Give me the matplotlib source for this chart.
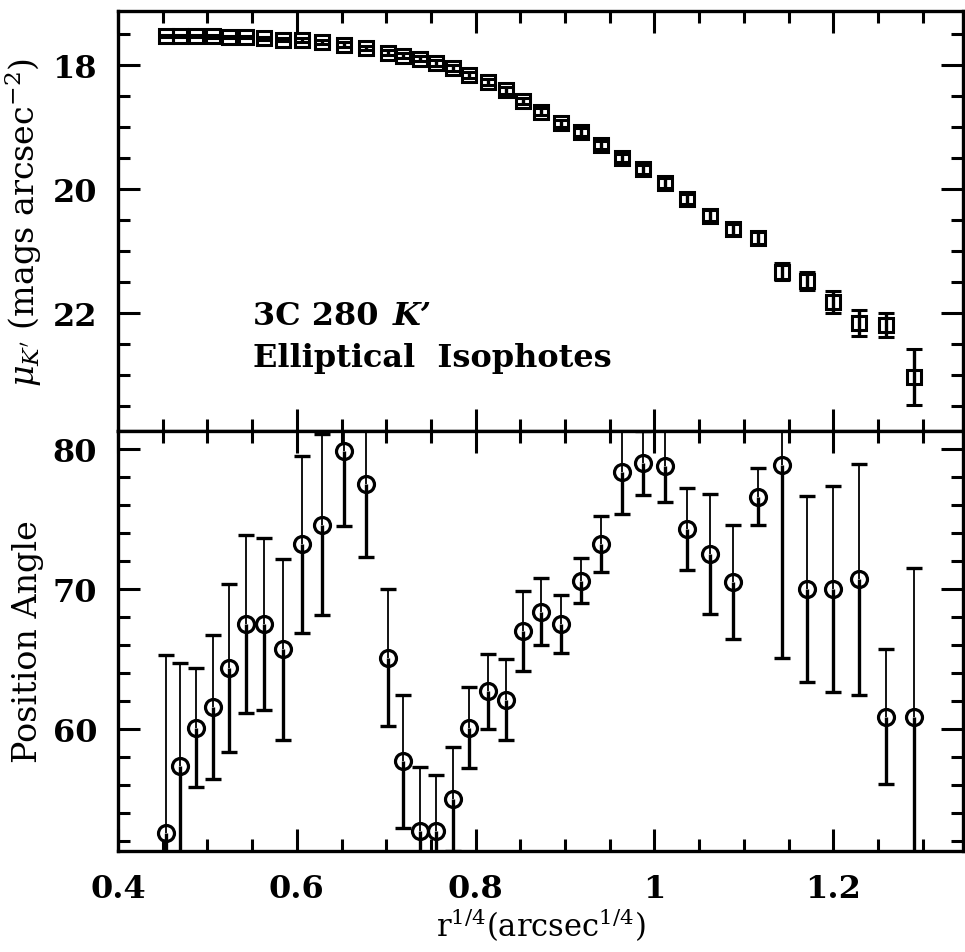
import matplotlib
matplotlib.use("Agg")
import numpy as np
import matplotlib.pyplot as plt
from matplotlib.ticker import MultipleLocator, FormatStrFormatter

# r^(1/4) of each isophote (same radii in both panels)
r14 = [0.4536, 0.4698, 0.4877, 0.5061, 0.5240, 0.5430, 0.5631, 0.5844,
       0.6061, 0.6285, 0.6525, 0.6777, 0.7022, 0.7190, 0.7380, 0.7553,
       0.7743, 0.7927, 0.8140, 0.8335, 0.8531, 0.8732, 0.8955, 0.9179,
       0.9402, 0.9637, 0.9872, 1.0117, 1.0363, 1.0620, 1.0877, 1.1156,
       1.1430, 1.1704, 1.1994, 1.2291, 1.2592, 1.2905]

# surface brightness in K' (mag / arcsec^2)
mu_k = [17.53, 17.53, 17.53, 17.54, 17.55, 17.55, 17.57, 17.59, 17.60,
        17.63, 17.67, 17.73, 17.80, 17.85, 17.90, 17.97, 18.05, 18.16,
        18.28, 18.41, 18.58, 18.75, 18.94, 19.08, 19.29, 19.50, 19.68,
        19.90, 20.16, 20.43, 20.65, 20.79, 21.33, 21.48, 21.82, 22.16,
        22.19, 23.03]
mu_err = [0.02, 0.02, 0.02, 0.02, 0.02, 0.02, 0.025, 0.025, 0.03,
          0.03, 0.035, 0.035, 0.04, 0.04, 0.04, 0.045, 0.045, 0.05,
          0.05, 0.055, 0.055, 0.06, 0.06, 0.065, 0.065, 0.07, 0.07,
          0.075, 0.08, 0.085, 0.09, 0.09, 0.13, 0.14, 0.17, 0.21,
          0.20, 0.45]

# position angle of the fitted ellipses (degrees)
pos_angle = [52.6, 57.4, 60.1, 61.6, 64.4, 67.5, 67.5, 65.7, 73.2, 74.6,
             79.9, 77.5, 65.1, 57.7, 52.7, 52.7, 55.0, 60.1, 62.7, 62.1,
             67.0, 68.4, 67.5, 70.6, 73.2, 78.4, 79.0, 78.8, 74.3, 72.5,
             70.5, 76.6, 78.9, 70.0, 70.0, 70.7, 60.9, 60.9]
pa_err = [12.7, 7.3, 4.25, 5.15, 6.0, 6.35, 6.15, 6.45, 6.3, 6.45,
          5.4, 5.2, 4.9, 4.75, 4.6, 4.0, 3.7, 2.9, 2.7, 2.9,
          2.85, 2.4, 2.05, 1.6, 2.0, 3.0, 2.3, 2.6, 2.9, 4.3,
          4.05, 2.05, 13.8, 6.65, 7.35, 8.25, 4.8, 10.6]

plt.rcParams["font.family"] = "DejaVu Serif"
plt.rcParams["mathtext.fontset"] = "dejavuserif"

fig = plt.figure(figsize=(9.65, 9.53), dpi=100)
ax_mu = fig.add_axes([0.1223, 0.5467, 0.8756, 0.4407])
ax_pa = fig.add_axes([0.1223, 0.1060, 0.8756, 0.4407], sharex=ax_mu)

for ax in (ax_mu, ax_pa):
    for side in ax.spines.values():
        side.set_linewidth(2.4)
    ax.tick_params(which="both", direction="in", top=True, right=True,
                   width=2.2, labelsize=23)
    ax.tick_params(which="major", length=16)
    ax.tick_params(which="minor", length=8.5)
    ax.xaxis.set_major_locator(MultipleLocator(0.2))
    ax.xaxis.set_minor_locator(MultipleLocator(0.05))
    ax.xaxis.set_major_formatter(FormatStrFormatter("%g"))

ax_mu.tick_params(axis="y", pad=15)
ax_pa.tick_params(axis="y", pad=15)
ax_pa.tick_params(axis="x", pad=16)
ax_mu.tick_params(labelbottom=False)

# top: surface brightness profile
ax_mu.errorbar(r14, mu_k, yerr=mu_err, fmt="s", mfc="none", mec="k",
               ms=9.5, mew=2.2, ecolor="k", elinewidth=2.4, capsize=6,
               capthick=2.4)
ax_mu.set_ylim(23.9, 17.13)
ax_mu.yaxis.set_major_locator(MultipleLocator(2))
ax_mu.yaxis.set_minor_locator(MultipleLocator(0.5))
ax_mu.set_ylabel(r"$\mu_{K'}$ (mags arcsec$^{-2}$)", fontsize=24)
ax_mu.yaxis.set_label_coords(-0.088, 0.5)

title = ax_mu.text(0.551, 22.18, "3C 280", fontsize=23, fontweight="bold")
ax_mu.annotate("K\u2019", xy=(1, 0), xycoords=title, xytext=(10, 0),
               textcoords="offset points", va="bottom", ha="left",
               fontsize=23, fontweight="bold", fontstyle="italic")
ax_mu.text(0.551, 22.85, "Elliptical  Isophotes", fontsize=23,
           fontweight="bold")

# bottom: position angle, upper half of each bar drawn thinner
pa = np.array(pos_angle)
err = np.array(pa_err)
ax_pa.vlines(r14, pa - err, pa, colors="k", lw=2.4)
ax_pa.vlines(r14, pa, pa + err, colors="k", lw=1.3)
ax_pa.plot(r14, pa - err, "_", color="k", ms=12, mew=2.4)
ax_pa.plot(r14, pa + err, "_", color="k", ms=12, mew=2.4)
ax_pa.plot(r14, pa, "o", mfc="none", mec="k", ms=11.5, mew=2.3)
ax_pa.set_ylim(51.3, 81.3)
ax_pa.set_xlim(0.4, 1.345)
ax_pa.yaxis.set_major_locator(MultipleLocator(10))
ax_pa.yaxis.set_minor_locator(MultipleLocator(2))
ax_pa.set_ylabel("Position Angle", fontsize=24)
ax_pa.yaxis.set_label_coords(-0.088, 0.5)
ax_pa.set_xlabel(r"r$^{1/4}$(arcsec$^{1/4}$)", fontsize=22)
ax_pa.xaxis.set_label_coords(0.5, -0.13)

# bold tick numbers
for ax in (ax_mu, ax_pa):
    for lab in ax.get_xticklabels() + ax.get_yticklabels():
        lab.set_fontweight("bold")

fig.savefig("out.png", dpi=100)
